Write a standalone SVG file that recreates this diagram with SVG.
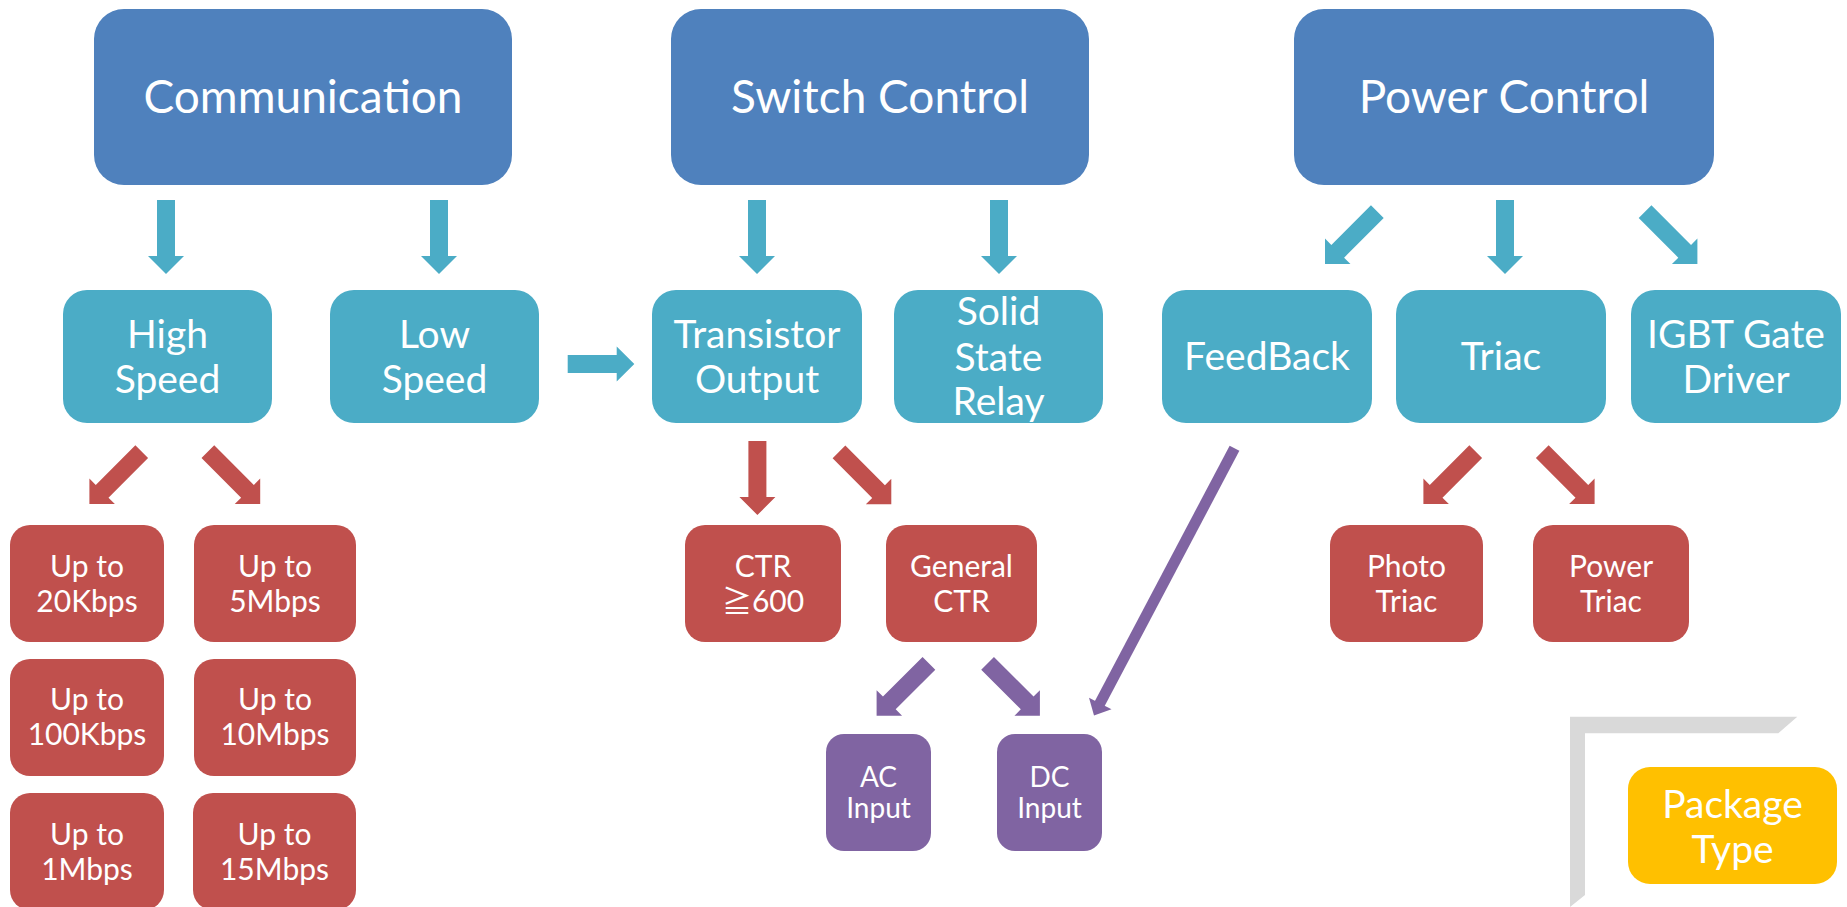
<svg xmlns="http://www.w3.org/2000/svg" width="1847" height="907" viewBox="0 0 1847 907">
<style>
text{font-family:Lato,"Open Sans","Noto Sans CJK TC",sans-serif;fill:#fff;text-anchor:middle}
.t1{font-size:46px}
.t2{font-size:39px}
.t3{font-size:30px}
.t4{font-size:28px}
.blue{fill:#4F81BD}
.teal{fill:#4BACC6}
.red{fill:#C0504D}
.purple{fill:#8064A2}
.yellow{fill:#FFC000}
</style>
<defs>
<path id="arr" d="M-9,-74 H9 V-18 H18 L0,0 L-18,-18 H-9 Z"/>
</defs>
<rect width="1847" height="907" fill="#fff"/>
<g id="connectors">
<g class="teal">
<use href="#arr" transform="translate(166,274)"/>
<use href="#arr" transform="translate(439,274)"/>
<use href="#arr" transform="translate(757,274)"/>
<use href="#arr" transform="translate(999,274)"/>
<use href="#arr" transform="translate(1505,274)"/>
<use href="#arr" transform="translate(1325,264) rotate(45)"/>
<use href="#arr" transform="translate(1697.4,264) rotate(-45)"/>
<path d="M567.7,355 H616.7 V346.5 L634.3,364 L616.7,381.5 V373 H567.7 Z"/>
</g>
<g class="red">
<use href="#arr" transform="translate(89.4,504) rotate(45)"/>
<use href="#arr" transform="translate(260.2,504) rotate(-45)"/>
<use href="#arr" transform="translate(757.4,515)"/>
<use href="#arr" transform="translate(891.3,504.3) rotate(-45)"/>
<use href="#arr" transform="translate(1423.4,504) rotate(45)"/>
<use href="#arr" transform="translate(1594.6,504) rotate(-45)"/>
</g>
<g class="purple">
<use href="#arr" transform="translate(876.6,715.7) rotate(45)"/>
<use href="#arr" transform="translate(1039.9,715.7) rotate(-45)"/>
<line x1="1234.5" y1="448.3" x2="1099" y2="705" stroke="#8064A2" stroke-width="11"/>
<polygon points="1094,715.5 1089,697.7 1111.5,709.3"/>
</g>
</g>
<g id="bracket">
<polygon points="1570,716.7 1797.3,716.7 1778.3,733.3 1585,733.3 1585,895 1570,907" fill="#D9D9D9"/>
</g>
<g id="n-communication"><rect class="blue" x="94" y="9" width="418" height="176" rx="30"/><text class="t1" x="303" y="113">Communication</text></g>
<g id="n-switch"><rect class="blue" x="671" y="9" width="418" height="176" rx="30"/><text class="t1" x="880" y="113">Switch Control</text></g>
<g id="n-power"><rect class="blue" x="1294" y="9" width="420" height="176" rx="30"/><text class="t1" x="1504" y="113">Power Control</text></g>

<g id="n-high"><rect class="teal" x="63" y="290" width="209" height="133" rx="24"/><text class="t2" x="167.5" y="348">High</text><text class="t2" x="167.5" y="393">Speed</text></g>
<g id="n-low"><rect class="teal" x="330" y="290" width="209" height="133" rx="24"/><text class="t2" x="434.5" y="348">Low</text><text class="t2" x="434.5" y="393">Speed</text></g>
<g id="n-transistor"><rect class="teal" x="652" y="290" width="210" height="133" rx="24"/><text class="t2" x="757" y="348">Transistor</text><text class="t2" x="757" y="393">Output</text></g>
<g id="n-ssr"><rect class="teal" x="894" y="290" width="209" height="133" rx="24"/><text class="t2" x="998.5" y="325">Solid</text><text class="t2" x="998.5" y="371">State</text><text class="t2" x="998.5" y="415">Relay</text></g>
<g id="n-feedback"><rect class="teal" x="1162" y="290" width="210" height="133" rx="24"/><text class="t2" x="1267" y="370">FeedBack</text></g>
<g id="n-triac"><rect class="teal" x="1396" y="290" width="210" height="133" rx="24"/><text class="t2" x="1501" y="370">Triac</text></g>
<g id="n-igbt"><rect class="teal" x="1631" y="290" width="210" height="133" rx="24"/><text class="t2" x="1736" y="348">IGBT Gate</text><text class="t2" x="1736" y="393">Driver</text></g>

<g id="n-20k"><rect class="red" x="10" y="525" width="154" height="117" rx="20"/><text class="t3" x="87" y="577">Up to</text><text class="t3" x="87" y="612">20Kbps</text></g>
<g id="n-5m"><rect class="red" x="194" y="525" width="162" height="117" rx="20"/><text class="t3" x="275" y="577">Up to</text><text class="t3" x="275" y="612">5Mbps</text></g>
<g id="n-100k"><rect class="red" x="10" y="659" width="154" height="117" rx="20"/><text class="t3" x="87" y="710">Up to</text><text class="t3" x="87" y="745">100Kbps</text></g>
<g id="n-10m"><rect class="red" x="194" y="659" width="162" height="117" rx="20"/><text class="t3" x="275" y="710">Up to</text><text class="t3" x="275" y="745">10Mbps</text></g>
<g id="n-1m"><rect class="red" x="10" y="793" width="154" height="117" rx="20"/><text class="t3" x="87" y="845">Up to</text><text class="t3" x="87" y="880">1Mbps</text></g>
<g id="n-15m"><rect class="red" x="193" y="793" width="163" height="117" rx="20"/><text class="t3" x="274.5" y="845">Up to</text><text class="t3" x="274.5" y="880">15Mbps</text></g>

<g id="n-ctr600"><rect class="red" x="685" y="525" width="156" height="117" rx="20"/><text class="t3" x="763" y="577">CTR</text><text class="t3" x="763" y="612">≧600</text></g>
<g id="n-general"><rect class="red" x="886" y="525" width="151" height="117" rx="20"/><text class="t3" x="961.5" y="577">General</text><text class="t3" x="961.5" y="612">CTR</text></g>
<g id="n-photo"><rect class="red" x="1330" y="525" width="153" height="117" rx="20"/><text class="t3" x="1406.5" y="577">Photo</text><text class="t3" x="1406.5" y="612">Triac</text></g>
<g id="n-powertriac"><rect class="red" x="1533" y="525" width="156" height="117" rx="20"/><text class="t3" x="1611" y="577">Power</text><text class="t3" x="1611" y="612">Triac</text></g>

<g id="n-ac"><rect class="purple" x="826" y="734" width="105" height="117" rx="18"/><text class="t4" x="878.5" y="787">AC</text><text class="t4" x="878.5" y="818">Input</text></g>
<g id="n-dc"><rect class="purple" x="997" y="734" width="105" height="117" rx="18"/><text class="t4" x="1049.5" y="787">DC</text><text class="t4" x="1049.5" y="818">Input</text></g>

<g id="n-package"><rect class="yellow" x="1628" y="767" width="209" height="117" rx="22"/><text class="t2" x="1732.5" y="818">Package</text><text class="t2" x="1732.5" y="863">Type</text></g>
</svg>
